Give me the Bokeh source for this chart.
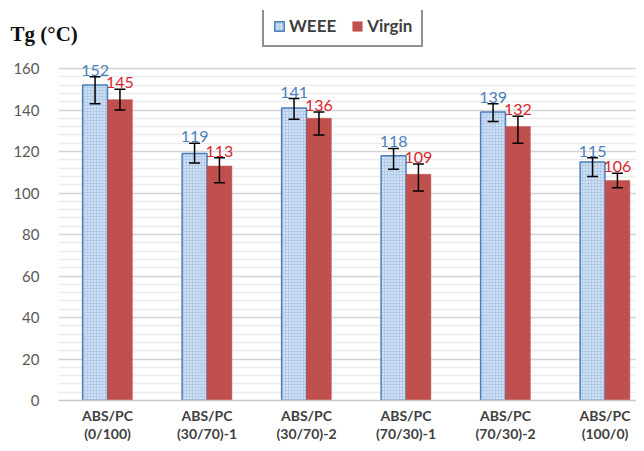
from bokeh.plotting import figure
from bokeh.models import (ColumnDataSource, Whisker, TeeHead, FixedTicker,
                          Legend, LegendItem, Range1d)
from bokeh.core.properties import value
from bokeh.embed import file_html
from bokeh.resources import INLINE

categories = ["ABS/PC\n(0/100)", "ABS/PC\n(30/70)-1", "ABS/PC\n(30/70)-2",
              "ABS/PC\n(70/30)-1", "ABS/PC\n(70/30)-2", "ABS/PC\n(100/0)"]
weee = [152, 119, 141, 118, 139, 115]
virgin = [145, 113, 136, 109, 132, 106]
weee_upper = [156, 124, 145.5, 121.5, 143, 117]
weee_lower = [143, 114.5, 135.5, 111.5, 134.5, 108]
virgin_upper = [150, 117, 139, 114, 137, 109.5]
virgin_lower = [140, 105, 128, 101, 124, 102.5]
y_ticks = [0, 20, 40, 60, 80, 100, 120, 140, 160]
y_minor = [v for v in range(0, 161, 4) if v % 20 != 0]

pos = [i + 1 for i in range(len(categories))]
bw = 0.25
src_w = ColumnDataSource(dict(x=[p - bw / 2 for p in pos], top=weee,
                              up=weee_upper, lo=weee_lower,
                              lab=[str(v) for v in weee]))
src_v = ColumnDataSource(dict(x=[p + bw / 2 for p in pos], top=virgin,
                              up=virgin_upper, lo=virgin_lower,
                              lab=[str(v) for v in virgin]))

FW, FH = 578, 390
p = figure(frame_width=FW, frame_height=FH, output_backend="svg",
           toolbar_location=None,
           x_range=Range1d(0.5075, 0.5075 + FW / 99.5),
           y_range=Range1d(0, FH / 2.075),
           min_border_left=58, min_border_right=0, min_border_top=10,
           min_border_bottom=43)
p.outline_line_color = None
p.background_fill_color = "white"

# title placed in the top panel, pulled down beside the legend
p.title.text = "Tg (°C)"
p.title.align = "left"
p.title.offset = -48
p.title.vertical_align = "bottom"
p.title.standoff = -70
p.title.text_font = "Liberation Serif"
p.title.text_font_style = "bold"
p.title.text_font_size = "21px"
p.title.text_color = "#111111"

# grid
p.xgrid.grid_line_color = None
p.yaxis.ticker = FixedTicker(ticks=y_ticks, minor_ticks=y_minor)
p.ygrid.grid_line_color = "#d4d4d4"
p.ygrid.grid_line_width = 1.5
p.ygrid.minor_grid_line_color = "#ececec"
p.ygrid.minor_grid_line_width = 1.5

wr = p.vbar(x="x", top="top", width=bw, source=src_w, fill_color="#b3cbea",
            hatch_pattern="dot", hatch_color="white", hatch_scale=3,
            hatch_weight=1.0, line_color="#4a7ebb", line_width=1.5)
vr = p.vbar(x="x", top="top", width=bw, source=src_v, fill_color="#c0504d",
            line_color="#c0504d", line_width=0.5)

for src in (src_w, src_v):
    w = Whisker(base="x", upper="up", lower="lo", source=src, level="overlay",
                line_color="black", line_width=1.5,
                upper_head=TeeHead(size=11, line_width=1.5, line_color="black"),
                lower_head=TeeHead(size=11, line_width=1.5, line_color="black"))
    p.add_layout(w)

p.text(x="x", y="up", text="lab", source=src_w, text_align="center",
       text_baseline="bottom", y_offset=-1, text_font=value("Lato"),
       text_font_size="16px", text_color="#4a7ebb")
p.text(x="x", y="up", text="lab", source=src_v, text_align="center",
       text_baseline="bottom", y_offset=-1, text_font=value("Lato"),
       text_font_size="16px", text_color="#d9262b")

# axes
p.xaxis.ticker = FixedTicker(ticks=pos)
p.xaxis.major_label_overrides = {pp: c for pp, c in zip(pos, categories)}
p.xaxis.major_tick_line_color = None
p.xaxis.major_tick_out = 0
p.xaxis.major_tick_in = 0
p.xaxis.minor_tick_line_color = None
p.xaxis.axis_line_color = "#c8c8c8"
p.xaxis.axis_line_width = 1.5
p.xaxis.major_label_text_font = "Lato"
p.xaxis.major_label_text_font_style = "bold"
p.xaxis.major_label_text_font_size = "14px"
p.xaxis.major_label_text_line_height = 1.1
p.xaxis.major_label_text_color = "#404040"
p.xaxis.major_label_standoff = 6

p.yaxis.axis_line_color = None
p.yaxis.major_tick_line_color = None
p.yaxis.major_tick_out = 0
p.yaxis.major_tick_in = 0
p.yaxis.minor_tick_line_color = None
p.yaxis.major_label_text_font = "Lato"
p.yaxis.major_label_text_font_size = "15px"
p.yaxis.major_label_text_color = "#595959"
p.yaxis.major_label_standoff = 15

legend = Legend(items=[LegendItem(label="WEEE", renderers=[wr]),
                       LegendItem(label="Virgin", renderers=[vr])],
                location=(204, 353), orientation="horizontal",
                border_line_color="#222222", border_line_width=2,
                label_text_font="Lato", label_text_font_style="bold",
                label_text_font_size="17px", label_text_color="#404040",
                glyph_width=12, glyph_height=12, label_standoff=4, spacing=15,
                padding=9, margin=0, background_fill_color="white")
p.add_layout(legend)

open("out.html", "w").write(file_html(p, INLINE))
